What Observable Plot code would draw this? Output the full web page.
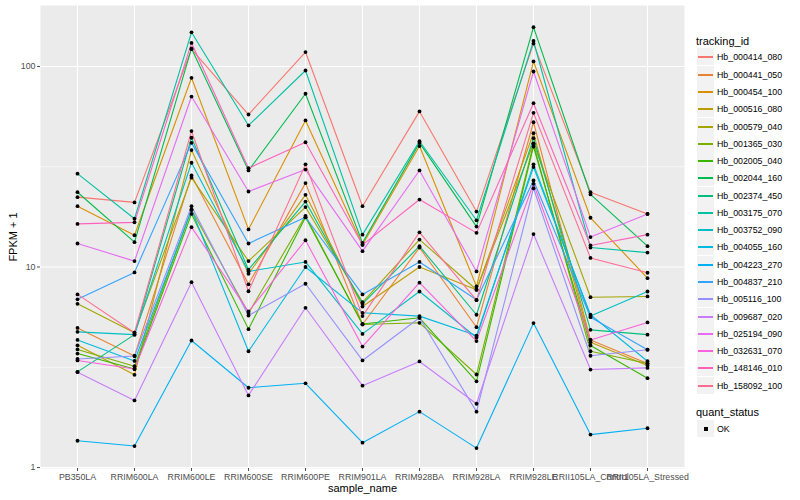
<!DOCTYPE html>
<html><head><meta charset="utf-8">
<script src="https://cdn.jsdelivr.net/npm/d3@7"></script>
<script src="https://cdn.jsdelivr.net/npm/@observablehq/plot@0.6"></script>
<style>
body{margin:0;background:#fff;font-family:"Liberation Sans",Arial,sans-serif;}
#wrap{position:relative;width:800px;height:500px;overflow:hidden;}
#chart{position:absolute;left:0;top:0;}
.ttl{position:absolute;font-size:11px;color:#000;white-space:nowrap;line-height:12px;}
.key{position:absolute;width:17px;height:17px;background:#F2F2F2;}
.sw{position:absolute;left:1px;right:1px;top:8px;height:1.5px;}
.lab{position:absolute;font-size:8.8px;color:#000;white-space:nowrap;line-height:10px;}
.sq{position:absolute;left:6.5px;top:6.5px;width:4px;height:4px;background:#000;}
</style>
</head><body>
<div id="wrap"><div id="chart"></div></div>
<script>
const samples = ["PB350LA","RRIM600LA","RRIM600LE","RRIM600SE","RRIM600PE","RRIM901LA","RRIM928BA","RRIM928LA","RRIM928LE","RRII105LA_Control","RRII105LA_Stressed"];
const ids = ["Hb_000414_080","Hb_000441_050","Hb_000454_100","Hb_000516_080","Hb_000579_040","Hb_001365_030","Hb_002005_040","Hb_002044_160","Hb_002374_450","Hb_003175_070","Hb_003752_090","Hb_004055_160","Hb_004223_270","Hb_004837_210","Hb_005116_100","Hb_009687_020","Hb_025194_090","Hb_032631_070","Hb_148146_010","Hb_158092_100"];
const colors = ["#F8766D","#EA8331","#D89000","#C09B00","#A3A500","#7CAE00","#39B600","#00BB4E","#00BF7D","#00C1A3","#00BFC4","#00BAE0","#00B0F6","#35A2FF","#9590FF","#C77CFF","#E76BF3","#FA62DB","#FF62BC","#FF6C91"];

// FPKM + 1 per gene, in sample order
const hb000414_080 = [22.3, 21.0, 122, 57.6, 118, 20.1, 59.7, 18.9, 130, 23.6, 18.4];
const hb000441_050 = [4.97, 3.6, 28.6, 8.2, 26.2, 5.17, 12.5, 5.01, 52.7, 4.33, 3.3];
const hb000454_100 = [20.1, 14.4, 87.8, 15.4, 53.8, 12.9, 40.1, 8.0, 106, 17.6, 8.8];
const hb000516_080 = [4.07, 2.9, 38.3, 9.25, 22.9, 6.35, 10.0, 7.7, 46.5, 4.22, 3.23];
const hb000579_040 = [6.55, 4.7, 27.9, 10.7, 19.9, 6.67, 13.7, 7.7, 41.4, 7.07, 7.13];
const hb001365_030 = [3.88, 3.2, 19.3, 5.89, 18.0, 5.17, 5.27, 2.91, 41.0, 3.8, 3.3];
const hb002005_040 = [3.7, 3.1, 18.4, 4.9, 17.7, 5.2, 5.58, 2.69, 39.9, 4.06, 2.79];
const hb002044_160 = [23.6, 13.3, 123, 30.3, 73.1, 13.2, 41.6, 15.9, 157, 23.0, 12.7];
const hb002374_450 = [3.0, 4.6, 44.1, 9.7, 21.2, 6.55, 12.7, 5.78, 43.9, 4.86, 4.6];
const hb003175_070 = [29.2, 17.4, 148, 50.8, 95.5, 14.5, 42.4, 17.1, 134, 12.5, 11.8];
const hb003752_090 = [4.75, 4.6, 33.1, 9.5, 10.6, 4.64, 7.55, 4.45, 32.5, 5.69, 7.55];
const hb004055_160 = [4.33, 3.4, 19.3, 3.8, 10.0, 5.91, 5.69, 4.55, 31.5, 5.78, 3.39];
const hb004223_270 = [1.36, 1.28, 4.3, 2.5, 2.63, 1.33, 1.9, 1.25, 5.25, 1.46, 1.57];
const hb004837_210 = [6.9, 9.4, 41.6, 13.1, 17.7, 7.3, 10.6, 6.86, 27.0, 5.62, 3.87];
const hb005116_100 = [3.48, 3.6, 20.1, 5.73, 8.25, 3.42, 5.58, 1.9, 24.7, 3.61, 3.87];
const hb009687_020 = [2.99, 2.16, 8.4, 2.29, 6.26, 2.56, 3.38, 2.08, 14.6, 3.08, 3.14];
const hb025194_090 = [13.1, 10.7, 70.8, 23.8, 30.6, 12.0, 30.3, 9.5, 94.4, 14.1, 18.4];
const hb032631_070 = [3.42, 3.1, 15.8, 6.0, 13.6, 4.01, 8.35, 4.27, 26.0, 4.33, 5.29];
const hb148146_010 = [16.4, 16.7, 131, 31.1, 41.9, 12.9, 21.7, 14.8, 65.6, 12.8, 14.5];
const hb158092_100 = [7.3, 4.7, 47.6, 7.57, 32.5, 5.69, 14.9, 6.83, 58.7, 11.1, 9.36];

const series = [hb000414_080,hb000441_050,hb000454_100,hb000516_080,hb000579_040,hb001365_030,hb002005_040,hb002044_160,hb002374_450,hb003175_070,hb003752_090,hb004055_160,hb004223_270,hb004837_210,hb005116_100,hb009687_020,hb025194_090,hb032631_070,hb148146_010,hb158092_100];
const majorTicks = [1, 10, 100];
const minorTicks = [Math.sqrt(10), Math.sqrt(1000)];

const rows = [];
ids.forEach((id, i) => series[i].forEach((v, j) => rows.push({id, sample: samples[j], value: v, status: "OK"})));

const chart = Plot.plot({
  width: 690, height: 500,
  marginLeft: 40, marginRight: 6, marginTop: 5, marginBottom: 32,
  style: {fontFamily: '"Liberation Sans", Arial, sans-serif', background: "white"},
  x: {type: "point", domain: samples, padding: 0.6},
  y: {type: "log", domain: [0.989, 201.4]},
  color: {domain: ids, range: colors},
  marks: [
    Plot.frame({fill: "#EBEBEB", stroke: "none"}),
    Plot.ruleY(minorTicks, {stroke: "white", strokeWidth: 0.6}),
    Plot.ruleY(majorTicks, {stroke: "white", strokeWidth: 1.1}),
    Plot.ruleX(samples, {stroke: "white", strokeWidth: 1.1}),
    Plot.axisY({ticks: majorTicks, tickFormat: d => String(d), tickSize: 3, tickPadding: 2, fontSize: 8.8, color: "#4D4D4D", label: null}),
    Plot.axisX({tickSize: 3, tickPadding: 2, fontSize: 8.8, color: "#4D4D4D", label: null}),
    Plot.line(rows, {x: "sample", y: "value", z: "id", stroke: "id", strokeWidth: 1.1}),
    Plot.dot(rows, {x: "sample", y: "value", r: 1.9, fill: "black", stroke: "none"}),
    Plot.text(["FPKM + 1"], {frameAnchor: "left", dx: -27, rotate: -90, textAnchor: "middle", lineAnchor: "middle", fontSize: 11, fill: "black"}),
    Plot.text(["sample_name"], {frameAnchor: "bottom", dy: 20, lineAnchor: "middle", fontSize: 11, fill: "black"})
  ]
});
document.getElementById("chart").appendChild(chart);

// legend (ggplot style, right side)
const wrap = document.getElementById("wrap");
function add(cls, style, text) {
  const d = document.createElement("div");
  d.className = cls;
  Object.assign(d.style, style);
  if (text != null) d.textContent = text;
  wrap.appendChild(d);
  return d;
}
add("ttl", {left: "696px", top: "34.5px"}, "tracking_id");
const step = 17.28, top0 = 48.4;
ids.forEach((id, i) => {
  const t = Math.round(top0 + i * step);
  const k = add("key", {left: "697px", top: t + "px"});
  const s = document.createElement("div");
  s.className = "sw"; s.style.background = colors[i];
  k.appendChild(s);
  add("lab", {left: "717px", top: (t + 3.6) + "px"}, id);
});
add("ttl", {left: "696px", top: "405.5px"}, "quant_status");
const kq = add("key", {left: "697px", top: "420px"});
const sq = document.createElement("div"); sq.className = "sq"; kq.appendChild(sq);
add("lab", {left: "717px", top: "424px"}, "OK");
</script>
</body></html>
